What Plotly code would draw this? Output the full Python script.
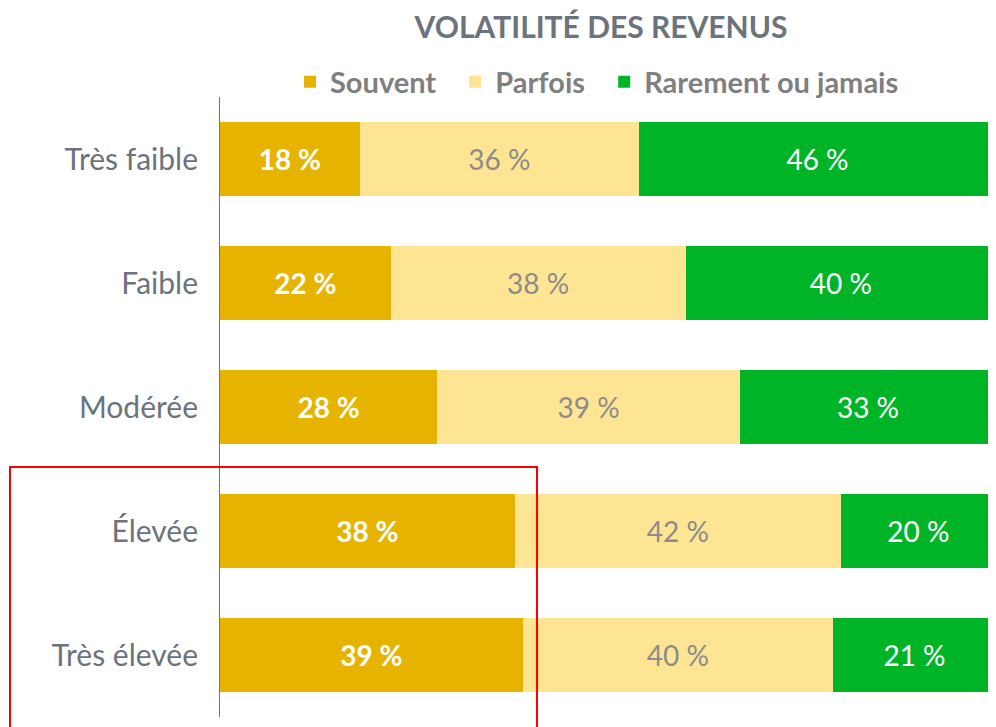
import plotly.graph_objects as go

categories = ["Très faible", "Faible", "Modérée", "Élevée", "Très élevée"]
souvent = [18, 22, 28, 38, 39]
parfois = [36, 38, 39, 42, 40]
rarement = [46, 40, 33, 20, 21]
series_names = ["Souvent", "Parfois", "Rarement ou jamais"]
legend_pad = ["\u00a0\u00a0", "\u00a0\u00a0", ""]
colors = ["#E6B400", "#FDE593", "#00B428"]
text_colors = ["white", "#8C8C8C", "white"]
text_bold = [True, False, False]

FONT = "Lato"
OFF = 8  # page body margin
W, H = 996 - OFF, 727 - OFF
L, R, T, B = 220 - OFF, 0, 97 - OFF, 10

fig = go.Figure()
for name, pad, vals, col, tc, bold in zip(series_names, legend_pad, [souvent, parfois, rarement],
                                          colors, text_colors, text_bold):
    tmpl = "<b>%{x} %</b>" if bold else "%{x} %"
    fig.add_trace(go.Bar(
        y=categories, x=vals, name=name + pad, orientation="h",
        marker=dict(color=col, line=dict(width=0)),
        texttemplate=tmpl, textposition="inside", insidetextanchor="middle",
        textfont=dict(family=FONT, size=28, color=tc),
        width=0.6,
    ))

pw = W - L - R
ph = H - T - B
fig.add_shape(type="rect", xref="paper", yref="paper",
              x0=(10 - OFF - L) / pw, x1=(537 - OFF - L) / pw,
              y0=(H - B - (467 - OFF)) / ph, y1=(H - B - (740 - OFF)) / ph,
              line=dict(color="#FF0000", width=2), fillcolor="rgba(0,0,0,0)", layer="above")

fig.update_layout(
    width=W, height=H,
    margin=dict(l=L, r=R, t=T, b=B),
    barmode="stack",
    plot_bgcolor="white", paper_bgcolor="white",
    title=dict(text="<b>VOLATILITÉ DES REVENUS</b>", x=(601 - OFF) / W, xanchor="center",
               y=1 - (27 - OFF) / H, yanchor="middle",
               font=dict(family=FONT, size=30, color="#6B737C")),
    legend=dict(orientation="h", x=(597 - OFF - L) / pw, xanchor="center",
                y=1 + (T - (82 - OFF)) / ph, yanchor="middle",
                font=dict(family=FONT, size=29, color="#7F7F7F", weight="bold"),
                itemwidth=30, traceorder="normal"),
    showlegend=True,
    xaxis=dict(range=[0, 100], visible=False, fixedrange=True),
    yaxis=dict(categoryorder="array", categoryarray=categories, autorange="reversed",
               showline=True, linecolor="#6B737C", linewidth=1,
               showgrid=False, ticks="", ticklabelstandoff=15,
               tickfont=dict(family=FONT, size=30, color="#6B737C")),
    bargap=0.4,
    uniformtext=dict(mode=False),
)

fig.write_html("out.html")
